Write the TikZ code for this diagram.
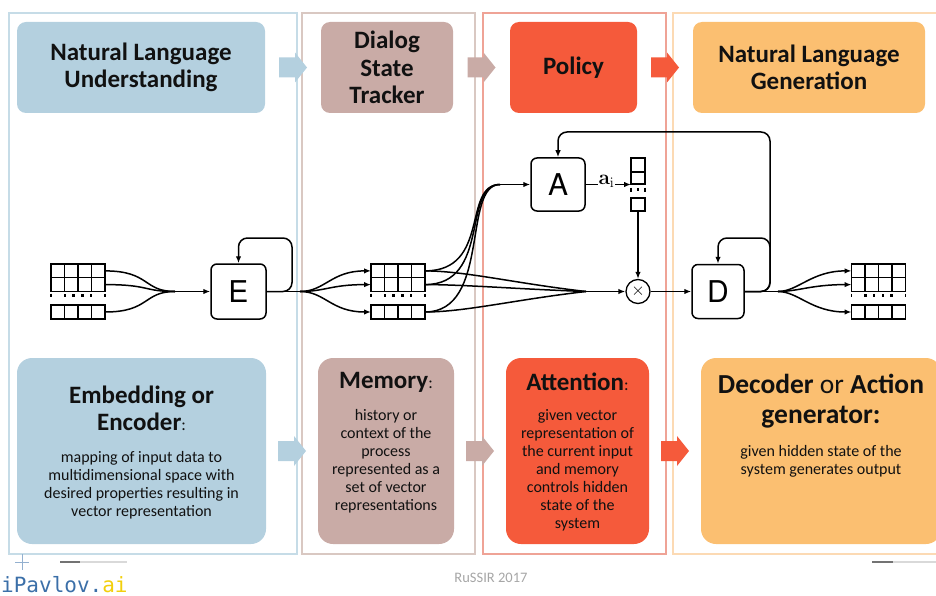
\documentclass[tikz,border=0pt]{standalone}
\usepackage[no-math]{fontspec}
\setmainfont{Carlito}
\newfontfamily\unitfont{TeX Gyre Heros}
\newfontfamily\logofont{DejaVu Sans Mono}
\usetikzlibrary{arrows.meta,calc}

\definecolor{nlublue}{HTML}{B4D0DF}
\definecolor{nluframe}{HTML}{C6DCE7}
\definecolor{dstbrown}{HTML}{C9ABA6}
\definecolor{dstframe}{HTML}{D9C8C2}
\definecolor{polred}{HTML}{F55A3B}
\definecolor{polframe}{HTML}{EFA396}
\definecolor{nlgorange}{HTML}{FBBF71}
\definecolor{nlgframe}{HTML}{FCDAB4}
\definecolor{ink}{HTML}{111111}
\definecolor{pavblue}{HTML}{3B6FA8}
\definecolor{pavyellow}{HTML}{F2CF0C}

\tikzset{
  frame/.style={line width=1.1pt},
  stagebox/.style={rounded corners=9pt, inner sep=0pt, align=center, text=ink,
    font=\bfseries\fontsize{25}{27.5}\selectfont},
  descbox/.style={rounded corners=15pt, inner sep=0pt},
  title/.style={align=center, text=ink, inner sep=0pt,
    font=\bfseries\fontsize{25}{27}\selectfont},
  desc/.style={align=center, text=ink, inner sep=0pt,
    font=\fontsize{16}{18}\selectfont},
  unit/.style={draw, line width=1.5pt, rounded corners=6pt, inner sep=0pt,
    font=\unitfont\fontsize{30}{30}\selectfont},
  wire/.style={line width=1.5pt},
  arr/.style={wire, -{Latex[length=7pt,width=5.5pt]}},
  gridline/.style={line width=1.3pt},
  pics/blockarrow/.style={code={
    \fill[#1] (-14,-10) -- (2,-10) -- (2,-15) -- (14,0) -- (2,15) -- (2,10) -- (-14,10) -- cycle;
  }},
  % a stack of vectors: two rows, a gap with dots, one row
  pics/vecgrid/.style={code={
    \draw[gridline] (-27,-27.5) rectangle (27,0);
    \draw[gridline] (-27,-13.75) -- (27,-13.75);
    \foreach \gx in {-13.5,0,13.5} \draw[gridline] (\gx,-27.5) -- (\gx,0);
    \draw[gridline] (-27,13.5) rectangle (27,27.5);
    \foreach \gx in {-13.5,0,13.5} \draw[gridline] (\gx,13.5) -- (\gx,27.5);
    \draw[gridline] (-27,2) -- (-27,5.5) (27,2) -- (27,5.5);
    \foreach \gx in {-13,-4.5,4.5,13} \fill (\gx-1.4,2.6) rectangle (\gx+1.4,5.6);
    \coordinate (-w1) at (-27,-20.6);
    \coordinate (-w2) at (-27,-6.9);
    \coordinate (-w3) at (-27,20.5);
    \coordinate (-e1) at (27,-20.6);
    \coordinate (-e2) at (27,-6.9);
    \coordinate (-e3) at (27,20.5);
  }},
  % attention weight column
  pics/attvec/.style={code={
    \draw[gridline] (-7,-26.5) rectangle (7,-0.5);
    \draw[gridline] (-7,-12.5) -- (7,-12.5);
    \draw[gridline] (-7,13.5) rectangle (7,26.5);
    \draw[gridline] (-7,3) -- (-7,7) (7,3) -- (7,7);
    \fill (-1.4,3.8) rectangle (1.4,6.8);
    \coordinate (-in) at (-7,0);
    \coordinate (-out) at (0,26.5);
  }}
}

\begin{document}
\begin{tikzpicture}[x=1pt,y=-1pt]
\useasboundingbox (0,0) rectangle (936,596);
\clip (0,0) rectangle (936,596);

% column frames
\draw[frame, nluframe] (9,13) rectangle (297,554);
\draw[frame, dstframe] (302,13) rectangle (475,554);
\draw[frame, polframe] (483,13) rectangle (666,554);
\draw[frame, nlgframe] (673,13) rectangle (960,554);

% stage headers
\node[stagebox, fill=nlublue, minimum width=248pt, minimum height=91pt] (nlu) at (141,67.5) {Natural Language\\Understanding};
\node[stagebox, fill=dstbrown, minimum width=132pt, minimum height=91pt] (dst) at (387,67.5) {Dialog\\State\\Tracker};
\node[stagebox, fill=polred, minimum width=127pt, minimum height=91pt] (pol) at (573.5,67.5) {Policy};
\node[stagebox, fill=nlgorange, minimum width=232pt, minimum height=91pt] (nlg) at (809,67.5) {Natural Language\\Generation};

\pic at ($(nlu.east)!0.5!(dst.west)$) {blockarrow=nlublue};
\pic at ($(dst.east)!0.5!(pol.west)$) {blockarrow=dstbrown};
\pic at ($(pol.east)!0.5!(nlg.west)$) {blockarrow=polred};

% component descriptions
\node[descbox, fill=nlublue, minimum width=249pt, minimum height=186pt] (emb) at (141.5,451) {};
\node[descbox, fill=dstbrown, minimum width=136pt, minimum height=186pt] (mem) at (386,451) {};
\node[descbox, fill=polred, minimum width=143pt, minimum height=186pt] (att) at (577.5,451) {};
\node[descbox, fill=nlgorange, minimum width=240pt, minimum height=186pt] (dec) at (821,451) {};

\pic at ($(emb.east)!0.5!(mem.west)$) {blockarrow=nlublue};
\pic at ($(mem.east)!0.5!(att.west)$) {blockarrow=dstbrown};
\pic at ($(att.east)!0.5!(dec.west)$) {blockarrow=polred};

\node[title] (embh) at (141.5,408.5) {Embedding or\\Encoder{\mdseries\fontsize{17}{17}\selectfont:}};
\node[desc] (embd) at (141.5,485) {mapping of input data to\\multidimensional space with\\desired properties resulting in\\vector representation};

\node[title] (memh) at (386,382) {Memory{\mdseries\fontsize{17}{17}\selectfont:}};
\node[desc] (memd) at (386,461) {history or\\context of the\\process\\represented as a\\set of vector\\representations};

\node[title] (atth) at (577.5,382) {Attention{\mdseries\fontsize{17}{17}\selectfont:}};
\node[desc] (attd) at (577.5,470) {given vector\\representation of\\the current input\\and memory\\controls hidden\\state of the\\system};

\node[title, font=\bfseries\fontsize{27.5}{30}\selectfont] (dech) at (821,401) {Decoder {\mdseries or} Action\\generator:};
\node[desc] (decd) at (821,461) {given hidden state of the\\system generates output};

% encoder / attention / decoder network
\pic (gin) at (78,291.5) {vecgrid};
\pic (gm) at (398,291.5) {vecgrid};
\pic (gout) at (878.5,291.5) {vecgrid};
\pic (vec) at (638,184.5) {attvec};

\node[unit, minimum width=55pt, minimum height=55pt] (E) at (238.5,291.5) {E};
\node[unit, minimum width=54pt, minimum height=53pt] (A) at (558,184.5) {A};
\node[unit, minimum width=52pt, minimum height=54pt] (D) at (718,291.5) {D};
\node[circle, draw, line width=1.3pt, minimum size=24pt, inner sep=0pt, font=\fontsize{19}{19}\selectfont] (mul) at (638,291.5) {$\times$};
\node[inner sep=0.5pt, font=\fontsize{21}{21}\selectfont] (ai) at (606.5,181) {$\mathbf{a}_{\mathrm{i}}$};

\coordinate (jin) at (175,291.5);
\coordinate (jsplit) at (300,291.5);
\coordinate (ja) at (500,184.5);
\coordinate (jm) at (586,291.5);
\coordinate (jout) at (778,291.5);
\coordinate (eloop) at (292,238);
\coordinate (dloop) at (770,238);
\coordinate (aloop) at (770,132);

% input embedding
\draw[wire] (gin-e1) .. controls +(45,0) and +(-32,0) .. (jin);
\draw[wire] (gin-e2) .. controls +(45,0) and +(-32,0) .. (jin);
\draw[wire] (gin-e3) .. controls +(45,0) and +(-32,0) .. (jin);
\draw[arr] (jin) -- (E.west);
\draw[arr, rounded corners=9pt] (E.east) -| (eloop) -| (E.north);

% encoder states into memory
\draw[wire] (E.east) -- (jsplit);
\draw[arr] (jsplit) .. controls +(25,0) and +(-40,0) .. (gm-w1);
\draw[arr] (jsplit) .. controls +(25,0) and +(-40,0) .. (gm-w2);
\draw[arr] (jsplit) .. controls +(25,0) and +(-40,0) .. (gm-w3);

% memory into the attention unit
\draw[wire] (gm-e1) .. controls +(66,0) and +(-38,0) .. (ja);
\draw[wire] (gm-e2) .. controls +(66,0) and +(-38,0) .. (ja);
\draw[wire] (gm-e3) .. controls +(66,0) and +(-38,0) .. (ja);
\draw[arr] (ja) -- (A.west);

% memory into the weighted sum
\draw[wire] (gm-e1) .. controls +(40,0) and +(-70,-8) .. (jm);
\draw[wire] (gm-e2) .. controls +(40,0) and +(-70,-2.5) .. (jm);
\draw[wire] (gm-e3) .. controls +(40,0) and +(-70,8) .. (jm);
\draw[arr] (jm) -- (mul.west);

% attention weights
\draw[wire] (A.east) -- (A.east -| ai.west);
\draw[arr] (ai.east |- vec-in) -- (vec-in);
\draw[arr] (vec-out) -- (mul.north);

% decoder
\draw[arr] (mul.east) -- (D.west);
\draw[arr, rounded corners=9pt] (D.east) -| (dloop) -| (D.north);
\draw[arr, rounded corners=9pt] (D.east) -| (aloop) -| (A.north);
\draw[wire] (D.east) -- (jout);
\draw[arr] (jout) .. controls +(20,0) and +(-40,0) .. (gout-w1);
\draw[arr] (jout) .. controls +(20,0) and +(-40,0) .. (gout-w2);
\draw[arr] (jout) .. controls +(20,0) and +(-40,0) .. (gout-w3);

% footer
\draw[line width=0.8pt, pavblue!55] (15,562) -- (29,562) (22,554) -- (22,570);
\draw[line width=2pt, black!15] (60,562) -- (127,562);
\draw[line width=2pt, black!55] (60,562) -- (80,562);
\draw[line width=2pt, black!15] (872,562) -- (936,562);
\draw[line width=2pt, black!55] (872,562) -- (893,562);
\node[text=black!35, inner sep=0pt, font=\fontsize{14.5}{14.5}\selectfont] (conf) at (491,578) {RuSSIR 2017};
\node[anchor=base west, inner sep=0pt, text=pavblue, font=\logofont\fontsize{21}{21}\selectfont] (logo) at (1,592) {iPavlov.\textcolor{pavyellow}{ai}};
\end{tikzpicture}
\end{document}
